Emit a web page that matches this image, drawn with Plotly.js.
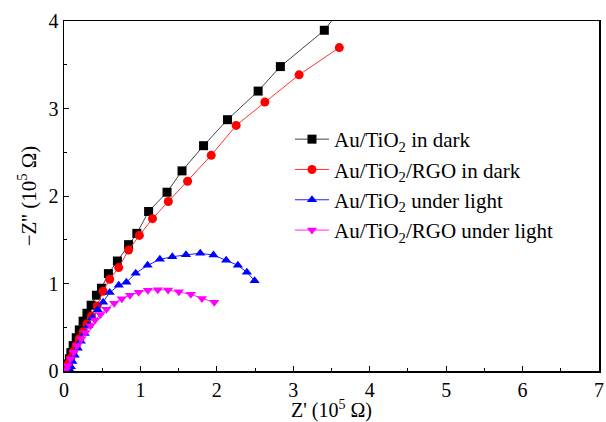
<!DOCTYPE html>
<html>
<head>
<meta charset="utf-8">
<script src="https://cdn.plot.ly/plotly-3.0.1.min.js"></script>
<style>body{margin:0;padding:0;background:#fff;}#chart{width:606px;height:422px;}</style>
</head>
<body>
<div id="chart"></div>
<script>
// Z' (10^5 Ω) and -Z'' (10^5 Ω)
const darkAuTiO2_x = [0.04,0.05,0.07,0.09,0.12,0.16,0.20,0.25,0.30,0.355,0.424,0.490,0.581,0.699,0.845,0.953,1.107,1.348,1.544,1.826,2.139,2.540,2.831,3.406,3.75];
const darkAuTiO2_y = [0.03,0.08,0.14,0.21,0.29,0.38,0.47,0.57,0.66,0.752,0.866,0.946,1.113,1.257,1.444,1.573,1.823,2.043,2.287,2.575,2.872,3.199,3.479,3.894,4.28];

const darkRGO_x = [0.03,0.04,0.06,0.09,0.12,0.16,0.20,0.25,0.30,0.36,0.434,0.512,0.598,0.716,0.845,0.986,1.158,1.365,1.617,1.926,2.253,2.628,3.076,3.602];
const darkRGO_y = [0.01,0.04,0.09,0.15,0.22,0.29,0.37,0.45,0.54,0.63,0.744,0.912,1.048,1.182,1.382,1.550,1.741,1.937,2.169,2.465,2.807,3.073,3.385,3.696];

const lightAuTiO2_x = [0.08,0.09,0.11,0.14,0.18,0.22,0.27,0.32,0.37,0.44,0.512,0.598,0.716,0.816,0.938,1.094,1.254,1.417,1.596,1.783,1.956,2.122,2.275,2.393,2.494];
const lightAuTiO2_y = [0.01,0.05,0.11,0.18,0.26,0.34,0.43,0.52,0.61,0.70,0.786,0.897,0.980,1.014,1.117,1.208,1.276,1.305,1.328,1.345,1.325,1.265,1.208,1.128,1.031];

const lightRGO_x = [0.026,0.050,0.085,0.128,0.172,0.225,0.281,0.346,0.407,0.477,0.555,0.657,0.756,0.863,0.977,1.097,1.228,1.362,1.503,1.659,1.805,1.966];
const lightRGO_y = [0.011,0.060,0.137,0.213,0.288,0.365,0.441,0.516,0.584,0.646,0.707,0.775,0.826,0.866,0.900,0.923,0.929,0.925,0.906,0.877,0.830,0.786];

const seriesNames = ['Au/TiO<sub>2</sub> in dark','Au/TiO<sub>2</sub>/RGO in dark','Au/TiO<sub>2</sub> under light','Au/TiO<sub>2</sub>/RGO under light'];
const xTickLabels = ['0','1','2','3','4','5','6','7'];
const yTickLabels = ['0','1','2','3','4'];

const FONT = 'Liberation Serif, Times New Roman, serif';
function tr(x, y, name, color, symbol, lineColor) {
  return {x: x, y: y, name: name, type: 'scatter', mode: 'lines+markers',
    line: {color: lineColor, width: 1},
    marker: {color: color, symbol: symbol, size: 9, line: {width: 0}}};
}
const data = [
  tr(darkAuTiO2_x, darkAuTiO2_y, seriesNames[0], '#000000', 'square', '#444444'),
  tr(darkRGO_x, darkRGO_y, seriesNames[1], '#ff0000', 'circle', '#ff3030'),
  tr(lightAuTiO2_x, lightAuTiO2_y, seriesNames[2], '#0000ff', 'triangle-up', '#2020ff'),
  tr(lightRGO_x, lightRGO_y, seriesNames[3], '#ff00ff', 'triangle-down', '#ff20ff')
];
const layout = {
  width: 606, height: 422,
  margin: {l: 64, r: 7, t: 21, b: 51},
  paper_bgcolor: '#fff', plot_bgcolor: '#fff',
  font: {family: FONT, size: 20, color: '#000'},
  showlegend: true,
  legend: {x: 0.4224, y: 0.72, xanchor: 'left', yanchor: 'top', bgcolor: 'rgba(0,0,0,0)',
    font: {family: FONT, size: 21, color: '#000'}, tracegroupgap: 0, itemwidth: 34},
  xaxis: {range: [0, 7], tickvals: [0,1,2,3,4,5,6,7], ticktext: xTickLabels,
    ticks: 'inside', ticklen: 5, tickwidth: 1, tickcolor: '#000',
    minor: {dtick: 0.5, ticks: 'inside', ticklen: 3, tickcolor: '#000'},
    showline: true, linecolor: '#000', linewidth: 1.5, mirror: true,
    showgrid: false, zeroline: false,
    tickfont: {family: FONT, size: 20, color: '#000'},
    title: {text: "Z' (10<sup>5</sup> Ω)", font: {family: FONT, size: 20, color: '#000'}, standoff: 0}},
  yaxis: {range: [0, 4], tickvals: [0,1,2,3,4], ticktext: yTickLabels,
    ticks: 'inside', ticklen: 5, tickwidth: 1, tickcolor: '#000',
    minor: {dtick: 0.5, ticks: 'inside', ticklen: 3, tickcolor: '#000'},
    showline: true, linecolor: '#000', linewidth: 1.5, mirror: true,
    showgrid: false, zeroline: false,
    tickfont: {family: FONT, size: 20, color: '#000'},
    title: {text: "−Z'' (10<sup>5</sup> Ω)", font: {family: FONT, size: 21, color: '#000'}, standoff: 6}}
};
Plotly.newPlot('chart', data, layout, {displayModeBar: false, staticPlot: true});
</script>
</body>
</html>
